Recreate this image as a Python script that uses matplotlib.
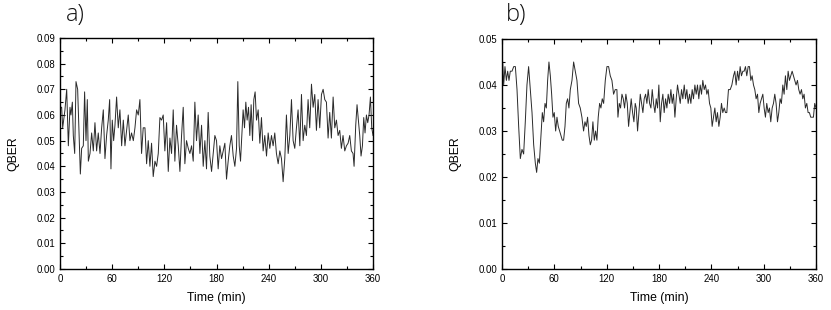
import matplotlib
matplotlib.use("Agg")
import matplotlib.pyplot as plt
from matplotlib.ticker import MultipleLocator, FormatStrFormatter

# ---------------- data: panel a ----------------
time_a = [0, 0.8, 1.9, 3.1, 4.2, 5.7, 7.7, 9.6, 11.5, 12.6, 14.2, 15.3, 16.9, 18.4, 20.3, 21.8,
          23.4, 24.9, 26.8, 28.3, 29.9, 31.4, 32.6, 34.5, 36.4, 38.3, 40.2, 42.1, 44.0, 46.0,
          47.9, 49.8, 51.7, 53.6, 55.5, 57.1, 58.6, 60.1, 61.7, 63.2, 65.1, 67.0, 68.9, 70.9,
          72.8, 74.7, 76.6, 78.5, 80.4, 82.3, 84.3, 86.2, 88.1, 90.0, 91.9, 93.8, 95.7, 97.7,
          99.6, 101.5, 103.4, 105.3, 107.2, 109.2, 111.1, 113.0, 114.9, 116.8, 118.7, 120.6,
          122.6, 124.5, 126.4, 128.3, 130.2, 132.1, 134.0, 136.0, 137.9, 139.8, 141.7, 143.6,
          145.5, 147.5, 149.4, 151.3, 153.2, 155.1, 157.0, 158.9, 160.9, 162.8, 164.7, 166.6,
          168.5, 170.4, 172.3, 174.3, 176.2, 178.1, 180.0, 181.9, 183.8, 185.8, 187.7, 189.6,
          191.5, 193.4, 195.3, 197.2, 199.2, 201.1, 203.0, 204.5, 206.1, 207.6, 209.1, 210.6,
          212.2, 213.7, 215.2, 216.8, 218.3, 219.8, 221.4, 222.9, 224.4, 226.0, 227.9, 229.8,
          231.7, 233.6, 235.5, 237.5, 239.4, 241.3, 243.2, 245.1, 247.0, 248.9, 250.9, 252.8,
          254.7, 256.6, 258.5, 260.4, 262.4, 264.3, 266.2, 268.1, 270.0, 271.9, 273.8, 275.8,
          277.7, 279.6, 281.5, 283.4, 285.3, 287.2, 289.2, 291.1, 293.0, 294.9, 296.8, 298.7,
          300.7, 302.6, 304.5, 306.4, 308.3, 310.2, 312.1, 314.1, 316.0, 317.9, 319.8, 321.7,
          323.6, 325.5, 327.5, 329.4, 331.3, 333.2, 335.1, 337.0, 338.2, 340.1, 341.6, 343.2,
          344.7, 346.2, 347.8, 349.3, 350.8, 352.4, 353.9, 355.4, 357.0, 358.5, 360.0]
qber_a = [0.060, 0.063, 0.063, 0.055, 0.058, 0.062, 0.070, 0.048, 0.063, 0.060, 0.065, 0.052,
          0.045, 0.073, 0.070, 0.054, 0.037, 0.047, 0.048, 0.069, 0.050, 0.066, 0.042, 0.045,
          0.053, 0.046, 0.057, 0.046, 0.053, 0.045, 0.055, 0.062, 0.043, 0.052, 0.058, 0.066,
          0.039, 0.058, 0.050, 0.056, 0.067, 0.055, 0.062, 0.048, 0.058, 0.048, 0.054, 0.060,
          0.050, 0.053, 0.050, 0.055, 0.062, 0.060, 0.066, 0.045, 0.055, 0.055, 0.041, 0.050,
          0.040, 0.049, 0.036, 0.042, 0.040, 0.045, 0.059, 0.058, 0.060, 0.046, 0.057, 0.038,
          0.051, 0.045, 0.062, 0.042, 0.056, 0.048, 0.038, 0.052, 0.063, 0.041, 0.050, 0.047,
          0.045, 0.048, 0.042, 0.065, 0.050, 0.060, 0.045, 0.056, 0.040, 0.050, 0.039, 0.061,
          0.044, 0.038, 0.045, 0.052, 0.050, 0.039, 0.048, 0.043, 0.046, 0.049, 0.035, 0.042,
          0.048, 0.052, 0.044, 0.040, 0.047, 0.073, 0.048, 0.042, 0.052, 0.062, 0.055, 0.065,
          0.058, 0.063, 0.052, 0.064, 0.050, 0.066, 0.069, 0.058, 0.062, 0.049, 0.059, 0.046,
          0.052, 0.044, 0.053, 0.047, 0.052, 0.048, 0.053, 0.045, 0.041, 0.046, 0.043, 0.034,
          0.043, 0.060, 0.045, 0.052, 0.066, 0.050, 0.047, 0.055, 0.062, 0.048, 0.068, 0.050,
          0.056, 0.052, 0.066, 0.055, 0.072, 0.063, 0.068, 0.054, 0.066, 0.055, 0.068, 0.070,
          0.066, 0.065, 0.051, 0.061, 0.051, 0.067, 0.055, 0.058, 0.052, 0.054, 0.047, 0.052,
          0.046, 0.048, 0.049, 0.052, 0.046, 0.045, 0.040, 0.056, 0.064, 0.058, 0.052, 0.044,
          0.048, 0.059, 0.053, 0.060, 0.057, 0.060, 0.067, 0.055, 0.052]

# ---------------- data: panel b ----------------
time_b = [0, 0.8, 1.9, 3.4, 5.0, 6.5, 8.0, 9.5, 11.5, 13.4, 15.3, 17.2, 19.1, 21.0, 22.9, 24.8,
          26.7, 28.6, 30.5, 32.5, 34.4, 36.3, 38.2, 39.7, 41.2, 42.8, 44.7, 46.2, 47.7, 49.3,
          50.8, 52.3, 53.8, 55.4, 56.9, 58.4, 59.9, 61.5, 63.0, 64.5, 66.1, 67.6, 69.1, 70.6,
          72.2, 73.7, 75.2, 76.7, 78.3, 80.2, 82.1, 84.0, 85.9, 87.8, 89.7, 91.6, 93.5, 95.1,
          96.6, 98.1, 99.7, 101.2, 102.7, 104.2, 105.8, 107.3, 108.8, 110.3, 111.9, 113.4,
          114.9, 116.5, 118.4, 120.3, 122.2, 124.1, 126.0, 127.9, 129.8, 131.7, 132.9, 134.4,
          135.9, 137.5, 139.0, 140.5, 142.0, 143.6, 145.1, 146.6, 148.1, 149.7, 151.2, 152.7,
          153.9, 155.4, 156.9, 158.5, 160.0, 161.5, 163.0, 164.6, 166.1, 167.6, 169.2, 170.7,
          172.2, 173.7, 175.3, 176.8, 178.3, 179.8, 181.4, 182.9, 184.4, 185.9, 187.5, 189.0,
          190.5, 192.1, 193.6, 195.1, 196.6, 198.2, 199.7, 201.2, 202.7, 204.3, 205.8, 207.3,
          208.9, 210.4, 211.9, 213.4, 215.0, 216.5, 218.0, 219.5, 221.1, 222.6, 224.1, 225.6,
          227.2, 228.7, 230.2, 231.8, 233.3, 234.8, 236.3, 237.9, 239.4, 240.9, 242.5, 244.0,
          245.5, 247.0, 248.6, 250.1, 251.6, 253.1, 254.7, 256.2, 257.7, 259.6, 261.6, 263.5,
          265.4, 266.9, 268.4, 270.0, 271.5, 273.0, 274.5, 276.1, 277.6, 279.1, 280.6, 282.2,
          283.7, 285.2, 286.7, 288.3, 289.8, 291.3, 292.9, 294.4, 295.9, 297.4, 299.0, 300.5,
          302.0, 303.5, 305.1, 306.6, 308.1, 309.7, 311.2, 312.7, 314.2, 315.8, 317.3, 318.8,
          320.3, 321.9, 323.4, 324.9, 326.5, 328.0, 329.5, 331.0, 332.6, 334.1, 335.6, 337.1,
          338.7, 340.2, 341.7, 343.3, 344.8, 346.3, 347.8, 349.4, 350.9, 352.4, 353.9, 355.5,
          357.0, 358.5, 360.0]
qber_b = [0.042, 0.045, 0.040, 0.044, 0.041, 0.043, 0.041, 0.043, 0.043, 0.044, 0.044, 0.039,
          0.031, 0.024, 0.026, 0.025, 0.032, 0.040, 0.044, 0.039, 0.034, 0.027, 0.023, 0.021,
          0.024, 0.023, 0.029, 0.034, 0.032, 0.036, 0.035, 0.041, 0.045, 0.042, 0.038, 0.033,
          0.034, 0.030, 0.033, 0.031, 0.030, 0.029, 0.028, 0.028, 0.031, 0.036, 0.037, 0.035,
          0.039, 0.041, 0.045, 0.043, 0.041, 0.036, 0.035, 0.033, 0.030, 0.032, 0.031, 0.033,
          0.029, 0.027, 0.028, 0.032, 0.028, 0.030, 0.028, 0.033, 0.036, 0.035, 0.037, 0.036,
          0.041, 0.044, 0.044, 0.042, 0.041, 0.038, 0.039, 0.039, 0.033, 0.036, 0.035, 0.038,
          0.037, 0.035, 0.038, 0.036, 0.031, 0.034, 0.037, 0.034, 0.032, 0.036, 0.035, 0.030,
          0.034, 0.038, 0.036, 0.034, 0.037, 0.038, 0.036, 0.039, 0.036, 0.035, 0.039, 0.036,
          0.034, 0.037, 0.035, 0.040, 0.032, 0.036, 0.038, 0.034, 0.037, 0.035, 0.038, 0.036,
          0.039, 0.036, 0.038, 0.033, 0.037, 0.040, 0.038, 0.036, 0.039, 0.037, 0.040, 0.037,
          0.039, 0.036, 0.038, 0.036, 0.039, 0.037, 0.040, 0.038, 0.040, 0.037, 0.040, 0.038,
          0.041, 0.039, 0.040, 0.038, 0.039, 0.036, 0.035, 0.031, 0.033, 0.035, 0.032, 0.034,
          0.031, 0.033, 0.036, 0.034, 0.035, 0.034, 0.034, 0.039, 0.039, 0.040, 0.042, 0.043,
          0.040, 0.043, 0.041, 0.044, 0.042, 0.043, 0.043, 0.044, 0.042, 0.044, 0.044, 0.041,
          0.042, 0.040, 0.039, 0.037, 0.038, 0.034, 0.036, 0.037, 0.038, 0.035, 0.033, 0.036,
          0.034, 0.035, 0.032, 0.035, 0.036, 0.038, 0.036, 0.032, 0.034, 0.037, 0.036, 0.040,
          0.038, 0.042, 0.039, 0.043, 0.041, 0.042, 0.043, 0.042, 0.041, 0.040, 0.041, 0.039,
          0.038, 0.039, 0.037, 0.038, 0.035, 0.036, 0.034, 0.034, 0.033, 0.033, 0.033, 0.036,
          0.035]

panel_labels = ["a)", "b)"]
x_label = "Time (min)"
y_label = "QBER"

plt.rcParams['font.family'] = ['Liberation Sans', 'DejaVu Sans']

fig = plt.figure(figsize=(8.31, 3.10), dpi=100)
ax_a = fig.add_axes([0.0722, 0.1323, 0.3767, 0.7452])
ax_b = fig.add_axes([0.6041, 0.1323, 0.3779, 0.7419])

def style(ax, ymax, ymajor, yminor):
    ax.set_xlim(0, 360)
    ax.set_ylim(0, ymax)
    ax.xaxis.set_major_locator(MultipleLocator(60))
    ax.xaxis.set_minor_locator(MultipleLocator(30))
    ax.yaxis.set_major_locator(MultipleLocator(ymajor))
    ax.yaxis.set_minor_locator(MultipleLocator(yminor))
    ax.yaxis.set_major_formatter(FormatStrFormatter('%.2f'))
    ax.tick_params(which='both', direction='in', top=True, right=True,
                   labelsize=6.9, width=0.8, pad=3.5)
    ax.tick_params(which='major', length=3.5)
    ax.tick_params(which='minor', length=2.5)
    for s in ax.spines.values():
        s.set_linewidth(1.0)
    ax.set_xlabel(x_label, fontsize=8.8, labelpad=6)
    ax.set_ylabel(y_label, fontsize=8.8, labelpad=12)

ax_a.plot(time_a, qber_a, color='#2a2a2a', linewidth=0.7)
style(ax_a, 0.09, 0.01, 0.005)
ax_b.plot(time_b, qber_b, color='#2a2a2a', linewidth=0.7)
style(ax_b, 0.05, 0.01, 0.005)

fig.text(66 / 831, 1 - 15 / 310, panel_labels[0], fontsize=17, family='Open Sans',
         fontweight='light', color='#111111', va='center', ha='left')
fig.text(506 / 831, 1 - 15 / 310, panel_labels[1], fontsize=17, family='Open Sans',
         fontweight='light', color='#111111', va='center', ha='left')

fig.savefig("out.png", dpi=100)
